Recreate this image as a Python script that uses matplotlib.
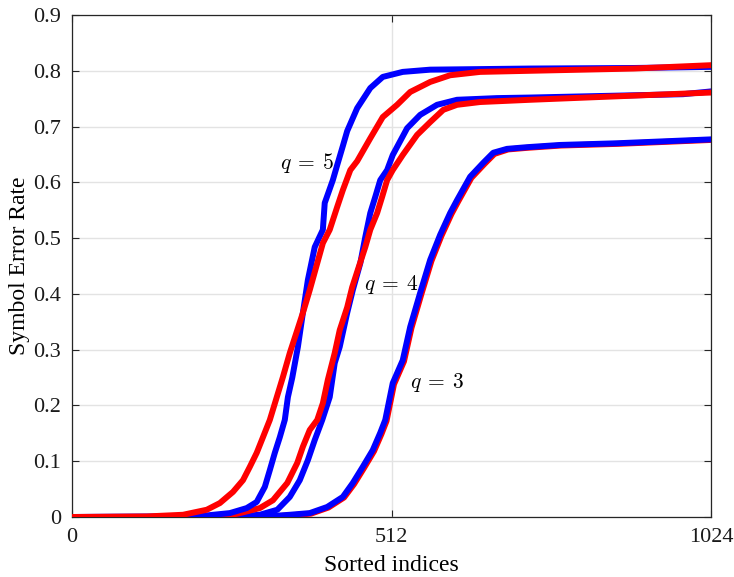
import matplotlib
matplotlib.use("Agg")
import matplotlib.pyplot as plt

plt.rcParams['font.family'] = ['Liberation Serif', 'DejaVu Serif']
plt.rcParams['mathtext.fontset'] = 'cm'

# q = 5
x_q5_blue = [0, 200, 253, 280, 296, 309, 317, 325, 333, 341, 346, 353, 362, 370, 378, 389, 402, 405, 418, 425, 434, 441, 457, 478, 498, 530, 574, 734, 900, 1024]
y_q5_blue = [0.0, 0.001, 0.007, 0.016, 0.027, 0.054, 0.084, 0.115, 0.143, 0.174, 0.215, 0.250, 0.305, 0.366, 0.425, 0.484, 0.515, 0.563, 0.604, 0.631, 0.665, 0.692, 0.733, 0.769, 0.789, 0.798, 0.802, 0.804, 0.805, 0.807]
x_q5_red = [0, 120, 178, 216, 237, 258, 274, 285, 296, 306, 317, 338, 349, 361, 370, 381, 393, 402, 413, 425, 434, 446, 457, 478, 498, 521, 542, 574, 606, 654, 734, 900, 1024]
y_q5_red = [0.0, 0.001, 0.004, 0.013, 0.025, 0.045, 0.066, 0.090, 0.115, 0.143, 0.174, 0.251, 0.294, 0.335, 0.366, 0.407, 0.455, 0.491, 0.515, 0.556, 0.586, 0.622, 0.638, 0.679, 0.717, 0.739, 0.762, 0.780, 0.792, 0.798, 0.800, 0.804, 0.810]

# q = 4
x_q4_blue = [0, 260, 301, 329, 349, 365, 378, 389, 401, 413, 421, 429, 441, 450, 462, 470, 478, 486, 494, 505, 514, 537, 558, 585, 617, 681, 734, 979, 1024]
y_q4_blue = [0.0, 0.001, 0.004, 0.013, 0.036, 0.066, 0.102, 0.138, 0.174, 0.215, 0.276, 0.305, 0.366, 0.407, 0.455, 0.502, 0.545, 0.574, 0.604, 0.622, 0.649, 0.697, 0.721, 0.739, 0.748, 0.751, 0.752, 0.758, 0.763]
x_q4_red = [0, 240, 269, 301, 322, 345, 361, 370, 381, 393, 402, 410, 421, 429, 441, 449, 458, 470, 478, 489, 497, 505, 514, 530, 553, 574, 595, 617, 654, 734, 1024]
y_q4_red = [0.0, 0.0, 0.007, 0.016, 0.030, 0.061, 0.097, 0.126, 0.156, 0.174, 0.204, 0.246, 0.294, 0.335, 0.376, 0.412, 0.443, 0.484, 0.515, 0.545, 0.574, 0.604, 0.622, 0.649, 0.685, 0.708, 0.730, 0.739, 0.744, 0.748, 0.761]

# q = 3
x_q3_blue = [0, 300, 349, 381, 409, 434, 450, 466, 482, 494, 502, 514, 530, 542, 558, 574, 590, 606, 617, 638, 659, 675, 697, 729, 782, 873, 1024]
y_q3_blue = [0.0, 0.0, 0.004, 0.007, 0.018, 0.036, 0.061, 0.090, 0.120, 0.151, 0.174, 0.240, 0.281, 0.341, 0.402, 0.461, 0.506, 0.545, 0.568, 0.610, 0.635, 0.653, 0.660, 0.663, 0.667, 0.670, 0.677]
x_q3_red = [0, 302, 351, 383, 411, 436, 452, 468, 484, 496, 504, 516, 532, 544, 560, 576, 592, 608, 619, 640, 661, 677, 699, 731, 784, 875, 1024]
y_q3_red = [0.0, 0.0, 0.003, 0.006, 0.017, 0.035, 0.059, 0.088, 0.118, 0.149, 0.172, 0.238, 0.279, 0.339, 0.400, 0.459, 0.504, 0.543, 0.566, 0.608, 0.633, 0.651, 0.659, 0.662, 0.666, 0.669, 0.676]

labels = [r'$q \:=\: 5$', r'$q \:=\: 4$', r'$q \:=\: 3$']
label_pos = [(377, 0.635), (511, 0.416), (585, 0.242)]

xticks = [0, 512, 1024]
yticks = [0, 0.1, 0.2, 0.3, 0.4, 0.5, 0.6, 0.7, 0.8, 0.9]

fig = plt.figure(figsize=(7.34, 5.77), dpi=100)
ax = fig.add_axes([72/734, 60/577, 639/734, 502/577])

lw = 4.3
ax.plot(x_q3_red, y_q3_red, color='#ff0000', lw=lw, zorder=3)
ax.plot(x_q3_blue, y_q3_blue, color='#0000ff', lw=lw, zorder=4)
ax.plot(x_q4_blue, y_q4_blue, color='#0000ff', lw=lw, zorder=5)
ax.plot(x_q4_red, y_q4_red, color='#ff0000', lw=lw, zorder=6)
ax.plot(x_q5_blue, y_q5_blue, color='#0000ff', lw=lw, zorder=7)
ax.plot(x_q5_red, y_q5_red, color='#ff0000', lw=lw, zorder=8)

for t, (px, py) in zip(labels, label_pos):
    ax.text(px, py, t, fontsize=15.5, ha='center', va='center', zorder=10)

ax.set_xlim(0, 1024)
ax.set_ylim(0, 0.9)
ax.set_xticks(xticks)
ax.set_xticklabels([str(v) for v in xticks])
ax.set_yticks(yticks)
ax.set_yticklabels(['0'] + ['%.1f' % v for v in yticks[1:]])
ax.grid(True, color='#e3e3e3', lw=1.0)
ax.set_axisbelow(True)
ax.tick_params(direction='in', length=5, width=0.8, colors='#262626', labelsize=16,
               top=True, right=True, labelcolor='#1a1a1a', pad=8)
for s in ax.spines.values():
    s.set_color('#262626')
    s.set_linewidth(0.9)
ax.set_xlabel('Sorted indices', fontsize=17, labelpad=6)
ax.set_ylabel('Symbol Error Rate', fontsize=17, labelpad=2)

fig.savefig('out.png', dpi=100)
